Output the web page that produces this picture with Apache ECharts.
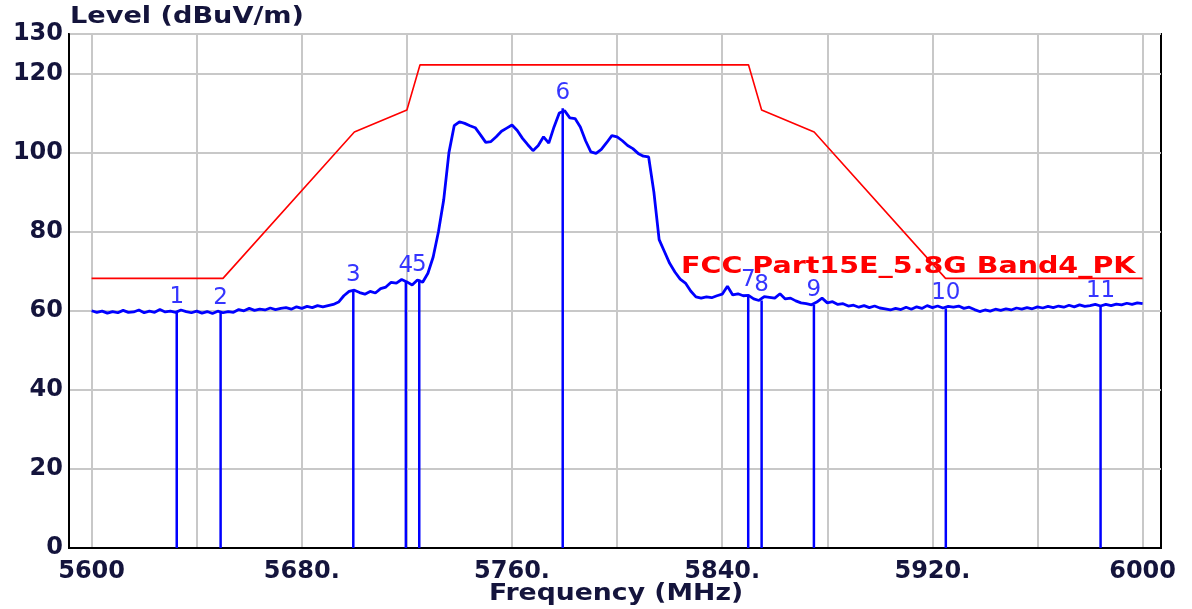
<!DOCTYPE html>
<html><head><meta charset="utf-8">
<script src="https://cdn.jsdelivr.net/npm/echarts@6/dist/echarts.min.js"></script>
<style>html,body{margin:0;padding:0;background:#fff}#c{width:1192px;height:609px}</style>
</head><body><div id="c"></div>
<script>
// Measured trace: start frequency and step (MHz), levels in dBuV/m
const traceStart = 5600;
const traceStep = 2;
const traceLevel = [
 60.0,59.6,59.9,59.4,59.8,59.5,60.1,59.6,59.7,60.2,59.5,59.9,59.6,60.3,59.7,59.9,59.6,60.2,59.8,59.5,
 59.9,59.4,59.8,59.3,59.9,59.5,59.8,59.6,60.3,60.0,60.6,60.1,60.4,60.2,60.7,60.3,60.6,60.8,60.4,61.0,
 60.6,61.1,60.8,61.3,61.0,61.3,61.6,62.2,63.8,64.9,65.2,64.6,64.2,64.9,64.5,65.6,66.0,67.2,67.0,67.9,
 67.3,66.5,67.8,67.2,69.5,73.6,80.0,88.0,100.0,106.8,107.8,107.4,106.8,106.3,104.5,102.6,102.8,104.0,105.4,106.2,
 107.0,105.6,103.6,102.0,100.5,101.8,104.0,102.4,106.5,110.0,110.6,108.8,108.6,106.5,103.0,100.2,99.8,100.8,102.5,104.3,
 104.0,103.0,101.8,101.0,99.8,99.1,98.9,90.0,78.0,75.0,72.0,69.8,68.0,67.0,65.0,63.5,63.2,63.5,63.3,63.8,
 64.2,66.2,64.0,64.3,63.8,63.9,63.0,62.6,63.6,63.4,63.2,64.3,63.0,63.2,62.5,62.0,61.8,61.5,62.2,63.2,
 62.0,62.3,61.6,61.8,61.2,61.4,60.9,61.3,60.8,61.2,60.7,60.5,60.2,60.6,60.3,60.9,60.4,61.0,60.6,61.3,
 60.8,61.2,60.7,61.1,60.9,61.2,60.6,60.9,60.3,59.8,60.2,59.9,60.4,60.1,60.5,60.2,60.7,60.4,60.8,60.5,
 61.0,60.7,61.1,60.8,61.2,60.9,61.4,61.0,61.5,61.1,61.3,61.6,61.2,61.6,61.3,61.7,61.5,61.9,61.6,62.0,
 61.8
];
// FCC limit line
const limitFreq  = [5600, 5650, 5700, 5720, 5725, 5850, 5855, 5875, 5925, 6000];
const limitLevel = [68.2, 68.2, 105.2, 110.8, 122.2, 122.2, 110.8, 105.2, 68.2, 68.2];
const limitName = 'FCC Part15E_5.8G Band4_PK';
// Markers
const markerNames = ['1','2','3','4','5','6','7','8','9','10','11'];
const markerFreq  = [5632.4, 5649.1, 5699.6, 5719.6, 5724.7, 5779.3, 5849.9, 5855.0, 5874.9, 5925.1, 5984.0];
const markerLevel = [59.6, 59.5, 65.2, 67.4, 67.9, 111.2, 63.9, 62.6, 61.5, 60.6, 61.3];
// Axes
const xGridValues  = [5600, 5640, 5680, 5720, 5760, 5800, 5840, 5880, 5920, 5960, 6000];
const xLabelValues = [5600, 5680, 5760, 5840, 5920, 6000];
const xMin = 5591.4, xMax = 6007.0;
const yMin = 0, yMax = 130, yStep = 20;
const xTitle = 'Frequency (MHz)';
const yTitle = 'Level (dBuV/m)';

const traceData = traceLevel.map((v, i) => [traceStart + i * traceStep, v]);
const limitData = limitFreq.map((f, i) => [f, limitLevel[i]]);
const markerData = markerFreq.map((f, i) => [f, markerLevel[i]]);

const labelColor = '#14143c';
const labelFont = '"DejaVu Sans", sans-serif';

const chart = echarts.init(document.getElementById('c'), null, {renderer: 'canvas'});
chart.setOption({
  animation: false,
  backgroundColor: '#ffffff',
  grid: {left: 69, right: 31, top: 34, bottom: 61, show: true, borderColor: '#000', borderWidth: 2, backgroundColor: 'transparent'},
  xAxis: {
    type: 'value', min: xMin, max: xMax,
    axisLine: {show: true, onZero: false, lineStyle: {color: '#000', width: 2}},
    axisTick: {show: false, customValues: xGridValues},
    splitLine: {show: true, lineStyle: {color: '#c8c8c8', width: 2}},
    axisLabel: {
      customValues: xLabelValues, margin: 12,
      color: labelColor, fontFamily: labelFont, fontWeight: 'bold', fontSize: 24,
      formatter: v => (v === xLabelValues[0] || v === xLabelValues[xLabelValues.length - 1]) ? String(v) : v + '.'
    }
  },
  yAxis: {
    type: 'value', min: yMin, max: yMax, interval: yStep,
    axisLine: {show: true, onZero: false, lineStyle: {color: '#000', width: 2}},
    axisTick: {show: false},
    splitLine: {show: true, lineStyle: {color: '#c8c8c8', width: 2}},
    axisLabel: {showMaxLabel: true, showMinLabel: true, margin: 6, color: labelColor, fontFamily: labelFont, fontWeight: 'bold', fontSize: 24}
  },
  graphic: [
    {type: 'text', x: 70, y: 17, scaleX: 1.18, z: 10,
     style: {text: yTitle, fill: labelColor, font: 'bold 23px "DejaVu Sans"', verticalAlign: 'middle', align: 'left'}},
    {type: 'text', x: 616, y: 594, scaleX: 1.16, z: 10,
     style: {text: xTitle, fill: labelColor, font: 'bold 23px "DejaVu Sans"', verticalAlign: 'middle', align: 'center'}},
    {type: 'text', x: 681, y: 267, scaleX: 1.24, z: 10,
     style: {text: limitName, fill: '#ff0000', font: 'bold 23px "DejaVu Sans"', verticalAlign: 'middle', align: 'left'}}
  ],
  series: [
    {type: 'line', data: limitData, symbol: 'none', lineStyle: {color: '#ff0000', width: 1.6}, z: 2},
    {type: 'custom', data: markerData, encode: {x: 0, y: 1}, z: 3,
     renderItem: (params, api) => {
       const base = api.coord([api.value(0), 0]);
       const top = api.coord([api.value(0), api.value(1)]);
       return {type: 'group', children: [
         {type: 'line', shape: {x1: base[0], y1: base[1], x2: top[0], y2: top[1]}, style: {stroke: '#0000ff', lineWidth: 2.5}},
         {type: 'text', x: top[0], y: top[1] - 15,
          style: {text: markerNames[params.dataIndex], fill: '#3535ff', font: '23px "DejaVu Sans"', align: 'center', verticalAlign: 'middle'}}
       ]};
     }},
    {type: 'line', data: traceData, symbol: 'none', lineStyle: {color: '#0000ff', width: 2.8}, z: 4}
  ]
});
</script></body></html>
